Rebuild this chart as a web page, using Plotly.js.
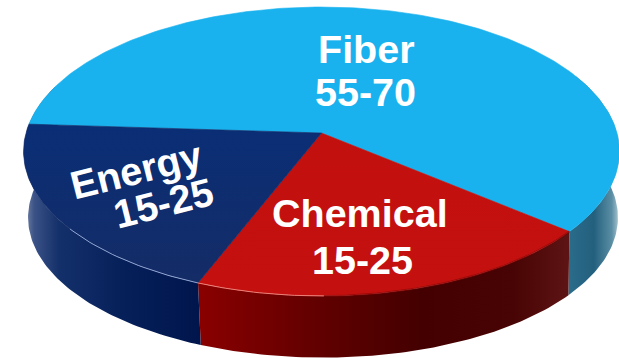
<!DOCTYPE html>
<html>
<head>
<meta charset="utf-8">
<script src="https://cdn.plot.ly/plotly-3.0.1.min.js"></script>
<style>html,body{margin:0;padding:0;background:#fff}#chart{width:619px;height:358px}</style>
</head>
<body>
<div id="chart"></div>
<script>
// Feedstock shares, drawn as a tilted disc
const categories = ["Fiber", "Chemical", "Energy"];
const ranges = ["55-70", "15-25", "15-25"];
const shares = [60, 20, 20];
const topStops = [
  [[0, "#1ab2ee"], [1, "#19b1ee"]],
  [[0, "#c4110f"], [1, "#c2100e"]],
  [[0, "#142c66"], [1, "#0a2e76"]]
];
const wallStops = [
  [[0, "#2a6c8a"], [0.5, "#23607e"], [0.85, "#5a8ea4"], [1, "#b5cdd6"]],
  [[0, "#8a0000"], [0.3, "#640000"], [0.6, "#440000"], [0.85, "#480404"], [1, "#5e1414"]],
  [[0, "#7d8cab"], [0.06, "#3a5286"], [0.2, "#14306a"], [0.55, "#06205a"], [1, "#00154c"]]
];

// Disc projection: a unit circle seen in perspective, centre at the hub
const CX = 321.5, HUB_Y = 133, RX = 295.5, RY = 142.1, PERSP = -0.128;
const DEPTH = 66, BASE_CX = 323, BASE_SX = 0.99, BASE_SY = 0.97, MID_Y = 151.5;
const START_DEG = 39.6;

function rim(deg) {
  const a = deg * Math.PI / 180, u = Math.cos(a), v = Math.sin(a), w = 1 + PERSP * v;
  return [CX + RX * u / w, HUB_Y + RY * v / w];
}
function base(deg) {
  const p = rim(deg);
  return [BASE_CX + (p[0] - CX) * BASE_SX, MID_Y + (p[1] - MID_Y) * BASE_SY + DEPTH];
}
function arc(fn, from, to) {
  const out = [], n = Math.max(2, Math.round(Math.abs(to - from)));
  for (let i = 0; i <= n; i++) out.push(fn(from + (to - from) * i / n));
  return out;
}

// Slice boundaries measured clockwise from due east
const total = shares.reduce((s, v) => s + v, 0);
const edges = [];
let run = START_DEG;
[1, 2, 0].forEach(i => { edges[i] = [run, run + shares[i] / total * 360]; run = edges[i][1]; });

const traces = [];
// Side walls: only the part facing the viewer
const wallSpan = [[-25, START_DEG], edges[1], [edges[2][0], 200]];
[0, 1, 2].forEach(i => {
  const [a, b] = wallSpan[i];
  const pts = arc(rim, a, b).concat(arc(base, b, a));
  pts.push(pts[0]);
  traces.push({
    x: pts.map(p => p[0]), y: pts.map(p => p[1]), mode: "lines", fill: "toself",
    line: {width: 0, color: "rgba(0,0,0,0)"},
    fillgradient: {type: "horizontal", colorscale: wallStops[i]},
    hoverinfo: "skip", showlegend: false, name: categories[i] + " wall"
  });
});
// Top faces
[0, 1, 2].forEach(i => {
  const pts = [[CX, HUB_Y]].concat(arc(rim, edges[i][0], edges[i][1]));
  pts.push(pts[0]);
  traces.push({
    x: pts.map(p => p[0]), y: pts.map(p => p[1]), mode: "lines", fill: "toself",
    line: {width: 0.6, color: topStops[i][0][1]},
    fillgradient: {type: "vertical", colorscale: topStops[i]},
    hoverinfo: "skip", showlegend: false, name: categories[i]
  });
});
// Soft shading and thin highlights along the front lip
[[edges[1][0], edges[1][0] + 50, "rgba(110,0,0,0.45)", 2],
 [edges[2][0], edges[2][0] + 30, "rgba(170,190,235,0.8)", 1],
 [edges[1][1] - 22, edges[1][1], "rgba(245,150,140,0.8)", 1]].forEach(h => {
  const pts = arc(rim, h[0], h[1]);
  traces.push({
    x: pts.map(p => p[0]), y: pts.map(p => p[1]), mode: "lines",
    line: {width: h[3], color: h[2]}, hoverinfo: "skip", showlegend: false
  });
});

const labelFont = {family: "Liberation Sans, Arial, sans-serif", size: 39.5, color: "#ffffff", weight: 700};
function label(text, x, y, angle) {
  return {text: "<b>" + text + "</b>", x, y, xref: "x", yref: "y", showarrow: false,
    textangle: angle || 0, xanchor: "center", yanchor: "middle", font: labelFont};
}
const annotations = [
  label(categories[0], 366, 49),
  label(ranges[0], 365.5, 92),
  label(categories[1], 359.5, 213),
  label(ranges[1], 362.5, 260),
  label(categories[2], 136, 170, -14),
  label(ranges[2], 163, 203, -14)
];

Plotly.newPlot("chart", traces, {
  width: 619, height: 358,
  margin: {l: 0, r: 0, t: 0, b: 0},
  paper_bgcolor: "#ffffff", plot_bgcolor: "#ffffff",
  xaxis: {range: [0, 619], visible: false, fixedrange: true},
  yaxis: {range: [358, 0], visible: false, fixedrange: true},
  annotations, showlegend: false
}, {displayModeBar: false, staticPlot: true});
</script>
</body>
</html>
